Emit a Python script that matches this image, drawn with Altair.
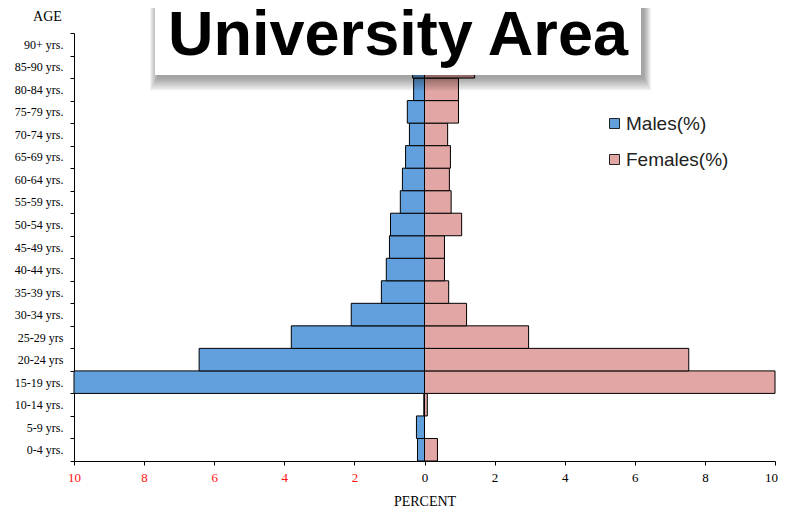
import altair as alt
import pandas as pd

ages = ["0-4 yrs.", "5-9 yrs.", "10-14 yrs.", "15-19 yrs.", "20-24 yrs", "25-29 yrs",
        "30-34 yrs.", "35-39 yrs.", "40-44 yrs.", "45-49 yrs.", "50-54 yrs.", "55-59 yrs.",
        "60-64 yrs.", "65-69 yrs.", "70-74 yrs.", "75-79 yrs.", "80-84 yrs.", "85-90 yrs.", "90+ yrs."]
males = [0.20, 0.23, 0.02, 10.0, 6.43, 3.80, 2.09, 1.23, 1.09, 1.00, 0.97, 0.69,
         0.63, 0.54, 0.43, 0.49, 0.31, 0.34, 0.15]
females = [0.37, 0.0, 0.08, 10.0, 7.54, 2.97, 1.20, 0.69, 0.57, 0.57, 1.06, 0.76,
           0.71, 0.74, 0.66, 0.97, 0.97, 1.43, 0.50]
series = ["Males(%)", "Females(%)"]
colors = ["#62a0dd", "#e2a6a4"]
x_ticks = [-10, -8, -6, -4, -2, 0, 2, 4, 6, 8, 10]
title_text = "University Area"

rows = []
for a, m, f in zip(ages, males, females):
    rows.append({"age": a, "sex": series[0], "value": -m})
    rows.append({"age": a, "sex": series[1], "value": f})
df = pd.DataFrame(rows)

bars = alt.Chart(df).mark_bar(stroke="black", strokeWidth=1).encode(
    y=alt.Y("age:N", sort=list(reversed(ages)),
            scale=alt.Scale(paddingInner=0, paddingOuter=0),
            axis=alt.Axis(title="AGE", titleAngle=0, titleX=-27, titleY=-13,
                          titleAlign="center", titleBaseline="alphabetic",
                          titleFont="Liberation Serif", titleFontSize=14, titleFontWeight="normal",
                          titleColor="black",
                          labelFont="Liberation Serif", labelFontSize=12, labelColor="black",
                          tickBand="extent", tickSize=4, tickColor="black", labelPadding=7,
                          domainColor="black", grid=False)),
    x=alt.X("value:Q", stack=None, scale=alt.Scale(domain=[-10, 10], nice=False),
            axis=alt.Axis(title="PERCENT", values=x_ticks, labelExpr="abs(datum.value)",
                          labelColor={"condition": {"test": "datum.value < 0", "value": "#ff1010"},
                                      "value": "black"},
                          labelOffset={"condition": {"test": "datum.value >= 10", "value": -4},
                                       "value": 0},
                          labelFlush=False,
                          labelFont="Liberation Serif", labelFontSize=13, labelPadding=6,
                          tickSize=4, tickColor="black", domainColor="black",
                          titleFont="Liberation Serif", titleFontSize=14, titleFontWeight="normal",
                          titleColor="black", titlePadding=10, grid=False)),
    color=alt.Color("sex:N", scale=alt.Scale(domain=series, range=colors),
                    legend=alt.Legend(title=None, orient="none", legendX=531, legendY=81,
                                      symbolType="square", symbolSize=100,
                                      symbolStrokeColor="#222", symbolStrokeWidth=1,
                                      symbolOpacity=1,
                                      labelFont="Liberation Sans", labelFontSize=19,
                                      labelColor="#222", rowPadding=16, labelOffset=2)),
)

box_df = pd.DataFrame({"t": [title_text]})
shadow_layers = []
for i in range(1, 9):
    shadow_layers.append(
        alt.Chart(box_df).mark_rect(color="black", opacity=0.05).encode(
            x=alt.value(81 - i + 3), x2=alt.value(567 + i + 2),
            y=alt.value(-30), y2=alt.value(43 + 1.7 * i + 1)))
box = alt.Chart(box_df).mark_rect(color="white").encode(
    x=alt.value(81), x2=alt.value(567), y=alt.value(-30), y2=alt.value(42))
text = alt.Chart(box_df).mark_text(font="Liberation Sans", fontWeight="bold", fontSize=63,
                                   color="black", align="center", baseline="alphabetic").encode(
    x=alt.value(324), y=alt.value(22), text="t:N")

chart = alt.layer(bars, *shadow_layers, box, text).properties(
    width=701, height=428,
    autosize=alt.AutoSizeParams(type="none"),
    padding={"left": 66, "top": 25, "right": 3, "bottom": 47},
).configure_view(stroke=None)

chart.save("out.html", embed_options={"renderer": "svg", "actions": False})
